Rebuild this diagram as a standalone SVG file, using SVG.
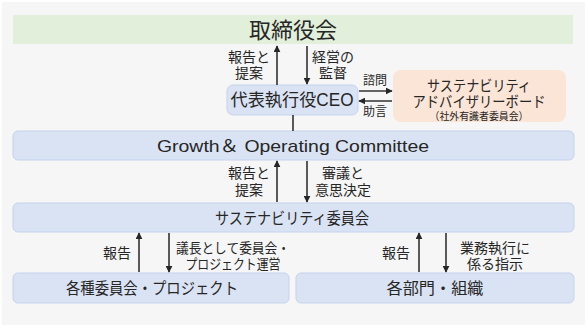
<svg xmlns="http://www.w3.org/2000/svg" width="587" height="327" viewBox="0 0 587 327">
<defs>
<style>
text{font-family:"Liberation Sans","Noto Sans CJK JP",sans-serif;fill:#262626;text-anchor:middle;dominant-baseline:central}
.box{fill:#dae3f3;stroke:#c5d3ec;stroke-width:1}
.lbl{font-size:14px}
.ln{stroke:#333333;stroke-width:1.6;fill:none}
</style>
<marker id="ah" viewBox="0 0 10 10" refX="9" refY="5" markerWidth="7" markerHeight="7" markerUnits="userSpaceOnUse" orient="auto">
<path d="M0,0 L10,5 L0,10 z" fill="#262626"/>
</marker>
</defs>
<rect x="0" y="0" width="587" height="327" fill="#ffffff"/>
<rect x="2" y="2" width="583" height="323" fill="#f6f6f6"/>

<g id="board">
<rect x="13" y="15" width="560" height="29" fill="#e2efda"/>
<text x="293" y="30" style="font-size:22px">取締役会</text>
</g>

<g id="ceo">
<rect class="box" x="227" y="85" width="131" height="30" rx="6"/>
<text x="292" y="100" style="font-size:17.5px" textLength="123" lengthAdjust="spacingAndGlyphs">代表執行役CEO</text>
</g>

<g id="advisory">
<rect x="393" y="70" width="173" height="52" rx="8" fill="#fbe5d6"/>
<text x="479" y="85" style="font-size:15px" textLength="104" lengthAdjust="spacingAndGlyphs">サステナビリティ</text>
<text x="479" y="101" style="font-size:15px" textLength="133" lengthAdjust="spacingAndGlyphs">アドバイザリーボード</text>
<text x="479" y="115.5" style="font-size:10.5px" textLength="99" lengthAdjust="spacingAndGlyphs">（社外有識者委員会）</text>
</g>

<g id="goc">
<rect class="box" x="13" y="131" width="561" height="29" rx="5"/>
<text x="293" y="146" style="font-size:17px" textLength="272" lengthAdjust="spacingAndGlyphs">Growth＆ Operating Committee</text>
</g>

<g id="sustainability-committee">
<rect class="box" x="13" y="203" width="561" height="29" rx="5"/>
<text x="292" y="218" style="font-size:16px" textLength="154" lengthAdjust="spacingAndGlyphs">サステナビリティ委員会</text>
</g>

<g id="committees">
<rect class="box" x="13" y="273" width="276" height="30" rx="5"/>
<text x="152" y="288" style="font-size:16px" textLength="172" lengthAdjust="spacingAndGlyphs">各種委員会・プロジェクト</text>
</g>

<g id="departments">
<rect class="box" x="296" y="273" width="278" height="30" rx="5"/>
<text x="435" y="288" style="font-size:16px" textLength="97" lengthAdjust="spacingAndGlyphs">各部門・組織</text>
</g>

<g id="connectors">
<line class="ln" x1="277" y1="85" x2="277" y2="46" marker-end="url(#ah)"/>
<line class="ln" x1="307" y1="46" x2="307" y2="84" marker-end="url(#ah)"/>
<line class="ln" x1="359" y1="91" x2="392" y2="91" marker-end="url(#ah)"/>
<line class="ln" x1="392" y1="101" x2="359" y2="101" marker-end="url(#ah)"/>
<line class="ln" x1="293" y1="115" x2="293" y2="131"/>
<line class="ln" x1="277" y1="202" x2="277" y2="161" marker-end="url(#ah)"/>
<line class="ln" x1="307" y1="161" x2="307" y2="202" marker-end="url(#ah)"/>
<line class="ln" x1="139" y1="272" x2="139" y2="233" marker-end="url(#ah)"/>
<line class="ln" x1="169" y1="233" x2="169" y2="272" marker-end="url(#ah)"/>
<line class="ln" x1="419" y1="272" x2="419" y2="233" marker-end="url(#ah)"/>
<line class="ln" x1="446" y1="233" x2="446" y2="272" marker-end="url(#ah)"/>

<text class="lbl" x="249" y="57">報告と</text>
<text class="lbl" x="249" y="73">提案</text>
<text class="lbl" x="333" y="57">経営の</text>
<text class="lbl" x="333" y="73">監督</text>
<text x="375" y="81" style="font-size:12px">諮問</text>
<text x="375" y="112" style="font-size:12px">助言</text>
<text class="lbl" x="249" y="173">報告と</text>
<text class="lbl" x="249" y="190">提案</text>
<text class="lbl" x="343" y="173">審議と</text>
<text class="lbl" x="343" y="190">意思決定</text>
<text class="lbl" x="117" y="253">報告</text>
<text class="lbl" x="233" y="248" textLength="114" lengthAdjust="spacingAndGlyphs">議長として委員会・</text>
<text class="lbl" x="233" y="264" textLength="95" lengthAdjust="spacingAndGlyphs">プロジェクト運営</text>
<text class="lbl" x="396" y="253">報告</text>
<text class="lbl" x="495" y="248">業務執行に</text>
<text class="lbl" x="495" y="264">係る指示</text>
</g>
</svg>
